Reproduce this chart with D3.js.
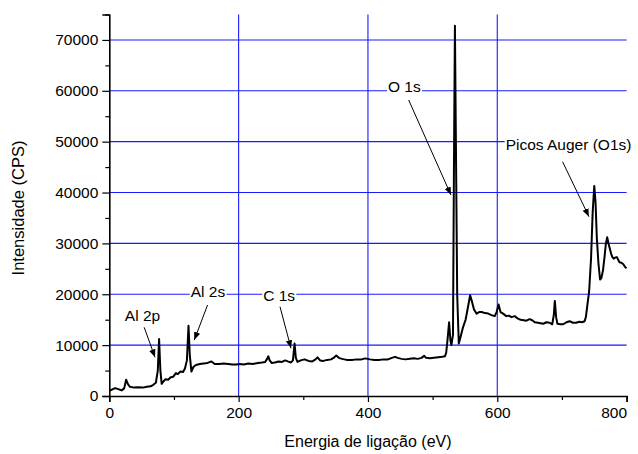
<!DOCTYPE html>
<html>
<head>
<meta charset="utf-8">
<script src="https://cdn.jsdelivr.net/npm/d3@7"></script>
<style>
  body { margin: 0; background: #fff; }
  svg { font-family: "Liberation Sans", Arial, sans-serif; }
</style>
</head>
<body>
<svg id="chart" width="638" height="454"></svg>
<script>
// --- Data ---
const energy = [0, 4, 9, 14, 19, 23, 26, 29, 32, 38, 45, 52, 58, 64, 68, 72, 75, 77, 79, 81,
  84, 87, 91, 95, 99, 103, 106, 110, 114, 117, 120, 122.5, 124.5, 127, 130, 134, 140, 146, 152, 158,
  163, 170, 177, 184, 190, 196, 202, 208, 215, 222, 230, 236, 241, 244, 246, 248, 251, 256, 262, 267,
  272, 276, 281, 284, 286.5, 288.5, 291, 296, 302, 308, 314, 319, 322, 326, 331, 337, 343, 348, 351, 355,
  360, 367, 375, 383, 390, 396, 403, 410, 417, 424, 431, 437, 442, 446, 452, 458, 465, 471, 477, 483,
  487, 490, 496, 502, 509, 515, 519, 521, 523, 525.5, 527.5, 529, 531.5, 533, 534.5, 536, 538, 540.5, 543, 547,
  551, 554, 558, 561, 564, 568, 572, 576, 581, 586, 591, 596, 599, 602, 605, 609, 614, 618, 622, 627,
  632, 636, 641, 645, 650, 654, 658, 663, 667, 671, 676, 681, 685, 687.5, 689, 691, 693, 698, 702, 707,
  712, 717, 722, 727, 731, 735, 737, 739, 742, 745, 747.5, 750, 752, 754, 756.5, 759, 761, 763.5, 766, 768,
  770, 772, 774, 776, 778, 780, 782, 785, 787, 789, 792, 795, 798, 800];
const counts = [1000, 1250, 1550, 1350, 1100, 1500, 3200, 2300, 1800, 1650, 1700, 1650, 1800, 1900, 2200, 2600, 5000, 11200, 5000, 2400,
  2900, 3300, 3200, 3700, 3800, 4500, 4300, 4800, 4700, 5400, 7000, 13800, 8000, 4800, 5700, 6100, 6300, 6400, 6500, 6800,
  6300, 6300, 6400, 6300, 6200, 6200, 6300, 6200, 6400, 6300, 6500, 6600, 6700, 7300, 7800, 7000, 6500, 6600, 6800, 6700,
  7000, 6800, 6600, 7000, 10300, 7500, 6700, 7000, 7200, 6900, 6800, 7200, 7600, 7000, 6900, 7100, 7200, 7600, 7950, 7500,
  7300, 7100, 7100, 7200, 7200, 7400, 7200, 7100, 7100, 7200, 7200, 7500, 7700, 7500, 7300, 7200, 7300, 7400, 7300, 7500,
  7900, 7500, 7400, 7500, 7600, 7700, 7800, 8500, 11000, 14500, 11000, 10000, 12000, 45000, 72800, 50000, 20000, 10300, 11500, 13500,
  15000, 17000, 19800, 18500, 17000, 16200, 16500, 16500, 16300, 16200, 15900, 15700, 16500, 18000, 16500, 16200, 15700, 15800, 15500, 15700,
  15200, 15000, 14900, 14800, 15100, 14900, 14500, 14400, 14300, 14200, 14500, 14400, 14100, 16000, 18700, 15500, 14200, 14100, 14100, 14500,
  14700, 14400, 14400, 14600, 14500, 14700, 15500, 17500, 20500, 27000, 36000, 41300, 38000, 31000, 26000, 22900, 23200, 24700, 27500, 30000,
  31200, 30000, 29000, 28000, 27300, 27000, 27200, 27300, 26800, 26300, 26200, 25900, 25300, 25100];

const xTicks = [0, 200, 400, 600, 800];
const yTicks = [0, 10000, 20000, 30000, 40000, 50000, 60000, 70000];
const xGrid = [200, 400, 600];
const yGrid = [10000, 20000, 30000, 40000, 50000, 60000, 70000];

// annotation labels: text position and arrow (tail -> head), in data units
const labels = ["Al 2p", "Al 2s", "C 1s", "O 1s", "Picos Auger (O1s)"];
const labelPos = [[24, 14750], [126, 19520], [238, 18680], [431, 59760], [613, 48360]];
const arrowFrom = [[54, 13500], [152, 17900], [264, 17550], [463, 58190], [701, 46060]];
const arrowTo = [[70.7, 7600], [131.4, 11000], [281, 9380], [528.4, 39500], [741.8, 35250]];

// --- Set up ---
const svg = d3.select("#chart");
const x = d3.scaleLinear().domain([0, 800]).range([109.3, 626.6]);
const y = d3.scaleLinear().domain([0, 75000]).range([396, 14.5]);

// arrow head
svg.append("defs").append("marker")
  .attr("id", "head")
  .attr("viewBox", "0 0 10 10")
  .attr("refX", 10).attr("refY", 5)
  .attr("markerWidth", 8).attr("markerHeight", 8)
  .attr("markerUnits", "userSpaceOnUse")
  .attr("orient", "auto")
  .append("path")
  .attr("d", "M0,1 L10,5 L0,9 Z")
  .attr("fill", "#000");

// --- Grid ---
svg.selectAll(".hgrid").data(yGrid).join("line")
  .attr("class", "hgrid")
  .attr("x1", x(0)).attr("x2", x(800))
  .attr("y1", d => y(d)).attr("y2", d => y(d))
  .attr("stroke", "#1a1aff").attr("stroke-width", 1.1);

svg.selectAll(".vgrid").data(xGrid).join("line")
  .attr("class", "vgrid")
  .attr("x1", d => x(d)).attr("x2", d => x(d))
  .attr("y1", y(75000)).attr("y2", y(0))
  .attr("stroke", "#1a1aff").attr("stroke-width", 1.1);

// --- Axes ---
const xAxis = svg.append("g")
  .attr("transform", `translate(0,${y(0)})`)
  .call(d3.axisBottom(x).tickValues(d3.range(0, 801, 100)).tickSize(6)
    .tickFormat(d => xTicks.includes(d) ? d3.format("d")(d) : ""));
xAxis.selectAll(".tick line").attr("y2", d => d % 200 === 0 ? 6 : 4);

const yAxis = svg.append("g")
  .attr("transform", `translate(${x(0)},0)`)
  .call(d3.axisLeft(y).tickValues(d3.range(0, 75001, 5000)).tickSize(7)
    .tickFormat(d => yTicks.includes(d) ? d3.format("d")(d) : ""));
yAxis.selectAll(".tick line").attr("x2", d => d % 10000 === 0 ? -7 : -4);

[xAxis, yAxis].forEach(g => {
  g.select(".domain").attr("stroke", "#000").attr("stroke-width", 1.6);
  g.selectAll(".tick line").attr("stroke", "#000").attr("stroke-width", 1.2);
  g.selectAll(".tick text")
    .attr("font-family", "Liberation Sans, Arial, sans-serif")
    .attr("font-size", 15.5).attr("fill", "#000");
});
yAxis.selectAll(".tick text").attr("x", -11);
xAxis.selectAll(".tick text").attr("y", 11)
  .attr("dx", d => d === 800 ? -13 : 0);

// --- Spectrum ---
const pts = energy.map((e, i) => [e, counts[i]]);
svg.append("path")
  .datum(pts)
  .attr("fill", "none")
  .attr("stroke", "#000")
  .attr("stroke-width", 2)
  .attr("stroke-linejoin", "round")
  .attr("d", d3.line().x(d => x(d[0])).y(d => y(d[1])));

// --- Annotations ---
labels.forEach((t, i) => {
  const txt = svg.append("text")
    .attr("x", x(labelPos[i][0]))
    .attr("y", y(labelPos[i][1]))
    .attr("font-size", 15.5)
    .attr("fill", "#000")
    .text(t);
  const bb = txt.node().getBBox();
  svg.insert("rect", () => txt.node())
    .attr("x", bb.x - 1).attr("y", bb.y + 2)
    .attr("width", bb.width + 2).attr("height", bb.height - 3)
    .attr("fill", "#fff");
  svg.append("line")
    .attr("x1", x(arrowFrom[i][0])).attr("y1", y(arrowFrom[i][1]))
    .attr("x2", x(arrowTo[i][0])).attr("y2", y(arrowTo[i][1]))
    .attr("stroke", "#000").attr("stroke-width", 1)
    .attr("marker-end", "url(#head)");
});

// --- Axis titles ---
svg.append("text")
  .attr("x", (x(0) + x(800)) / 2)
  .attr("y", 447)
  .attr("text-anchor", "middle")
  .attr("font-size", 16)
  .text("Energia de ligação (eV)");

svg.append("text")
  .attr("transform", "rotate(-90)")
  .attr("x", -208)
  .attr("y", 24)
  .attr("text-anchor", "middle")
  .attr("font-size", 16.5)
  .text("Intensidade (CPS)");
</script>
</body>
</html>
